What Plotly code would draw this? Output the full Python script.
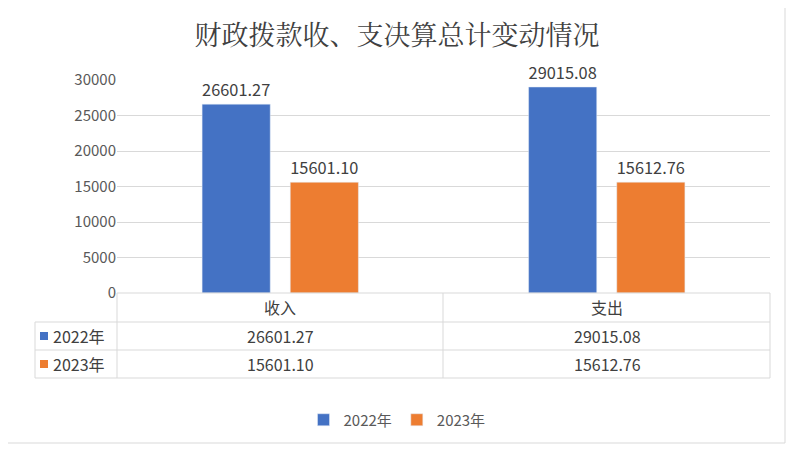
import plotly.graph_objects as go

categories = ['收入', '支出']
series_names = ['2022年', '2023年']
values_2022 = [26601.27, 29015.08]
values_2023 = [15601.10, 15612.76]
colors = ['#4472C4', '#ED7D31']

# page has an 8px body margin, so the figure is drawn 8px smaller and shifted
OFF = 8
W, H = 794 - OFF, 452 - OFF
L, R, T, B = 117, 770, 80, 293


def px(x):
    return (x - L) / (R - L)


def py(y):
    return (B - y) / (B - T)


fig = go.Figure()
for name, vals, c in zip(series_names, [values_2022, values_2023], colors):
    fig.add_trace(go.Bar(x=categories, y=vals, name=name, marker_color=c,
                         text=['%.2f' % v for v in vals], textposition='outside',
                         textfont=dict(size=17, color='#404040'), cliponaxis=False))

grid = '#d9d9d9'
shapes = []
shapes.append(dict(type='line', xref='paper', yref='paper', x0=px(L), x1=px(R), y0=py(B), y1=py(B), line=dict(color=grid, width=1)))
for y in [322, 350, 378]:
    shapes.append(dict(type='line', xref='paper', yref='paper', x0=px(35), x1=px(R), y0=py(y), y1=py(y), line=dict(color=grid, width=1)))
for x in [L, 443, R]:
    shapes.append(dict(type='line', xref='paper', yref='paper', x0=px(x), x1=px(x), y0=py(B), y1=py(378), line=dict(color=grid, width=1)))
shapes.append(dict(type='line', xref='paper', yref='paper', x0=px(35), x1=px(35), y0=py(322), y1=py(378), line=dict(color=grid, width=1)))
shapes.append(dict(type='rect', xref='paper', yref='paper', x0=px(1 - OFF), x1=px(W - 1 - OFF + OFF), y0=py(H - 1), y1=py(1 - OFF),
                   line=dict(color='#d9d9d9', width=1)))

annotations = []
centers = [280, 607]
cell = dict(xref='paper', yref='paper', showarrow=False, xanchor='center', yanchor='middle',
            font=dict(size=16, color='#404040'))
for cat, cx in zip(categories, centers):
    annotations.append(dict(cell, x=px(cx), y=py(307), text=cat))
for row, (name, vals, c) in enumerate(zip(series_names, [values_2022, values_2023], colors)):
    yc = 336 + row * 28
    shapes.append(dict(type='rect', xref='paper', yref='paper', x0=px(40), x1=px(48), y0=py(yc + 4), y1=py(yc - 4),
                       fillcolor=c, line=dict(width=0)))
    annotations.append(dict(cell, x=px(51), y=py(yc), text=name, xanchor='left'))
    for v, cx in zip(vals, centers):
        annotations.append(dict(cell, x=px(cx), y=py(yc), text='%.2f' % v))

fig.update_layout(
    width=W, height=H,
    margin=dict(l=L - OFF, r=794 - R, t=T - OFF, b=452 - B),
    paper_bgcolor='white', plot_bgcolor='white',
    font=dict(family='Noto Sans CJK SC', color='#595959'),
    title=dict(text='财政拨款收、支决算总计变动情况', x=(397 - OFF) / W, xanchor='center', y=1 - (36 - OFF) / H, yanchor='middle',
               font=dict(size=27, color='#404040', family='Noto Serif CJK SC, Noto Sans CJK SC')),
    barmode='group', bargap=0.46, bargroupgap=0.227,
    xaxis=dict(showticklabels=False, showline=False, ticks=''),
    yaxis=dict(range=[0, 30000], dtick=5000, tickformat='d', showgrid=True, gridcolor=grid, zeroline=False,
               tickfont=dict(size=15, color='#595959'), ticks='', showline=False),
    legend=dict(orientation='h', x=px(397), xanchor='center', y=py(420), yanchor='middle',
                font=dict(size=15, color='#595959')),
    shapes=shapes, annotations=annotations,
)

fig.write_html('out.html')
